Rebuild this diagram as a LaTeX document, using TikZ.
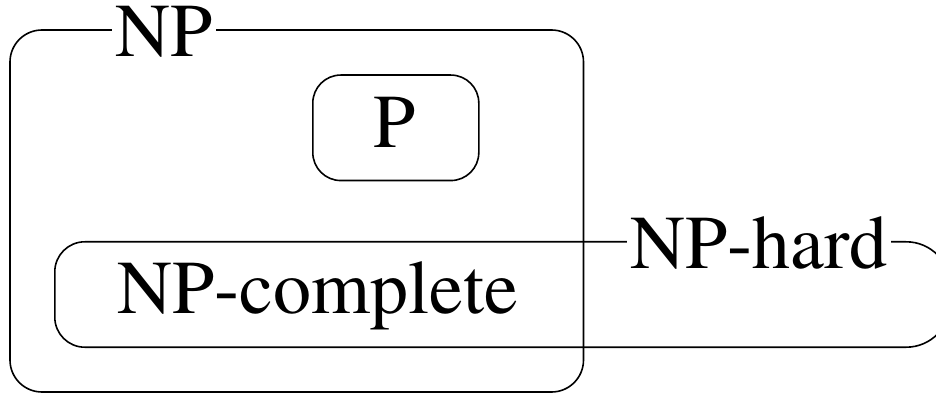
\documentclass[tikz,border=0pt]{standalone}
\usepackage[T1]{fontenc}
\usepackage{mathptmx}
\tikzset{
  outline/.style={draw, line width=1.6pt},
  setbox/.style={outline, rounded corners=#1, inner sep=0pt},
  setlabel/.style={anchor=base, inner xsep=3pt, inner ysep=0pt, font=\fontsize{76}{80}\selectfont},
  tag/.style={setlabel, fill=white}
}
\begin{document}
\begin{tikzpicture}[x=1pt, y=-1pt]
  \useasboundingbox (0,0) rectangle (936,395);
  % class boxes
  \node[setbox=32pt, minimum width=573.5pt, minimum height=362pt] (np) at (296.75,211) {};
  \node[inner sep=0pt, minimum width=895pt, minimum height=105pt] (nphard) at (502.5,294.5) {};
  % NP-hard outline: wider rounding on the right-hand end
  \draw[outline] (nphard.north)
    [rounded corners=44pt] -- (nphard.north east) -- (nphard.south east) -- (nphard.south)
    [rounded corners=30pt] -- (nphard.south west) -- (nphard.north west) -- (nphard.north);
  \node[setbox=28pt, minimum width=166pt, minimum height=105.5pt] (p) at (395.8,127.8) {};
  % labels
  \node[tag, text height=50pt] (nplabel) at (164,57) {NP};
  \node[tag] (nphardlabel) at (759,268) {NP-hard};
  \node[setlabel] (plabel) at (394.5,147.7) {P};
  \node[setlabel] (npclabel) at (318,313) {NP-complete};
\end{tikzpicture}
\end{document}
